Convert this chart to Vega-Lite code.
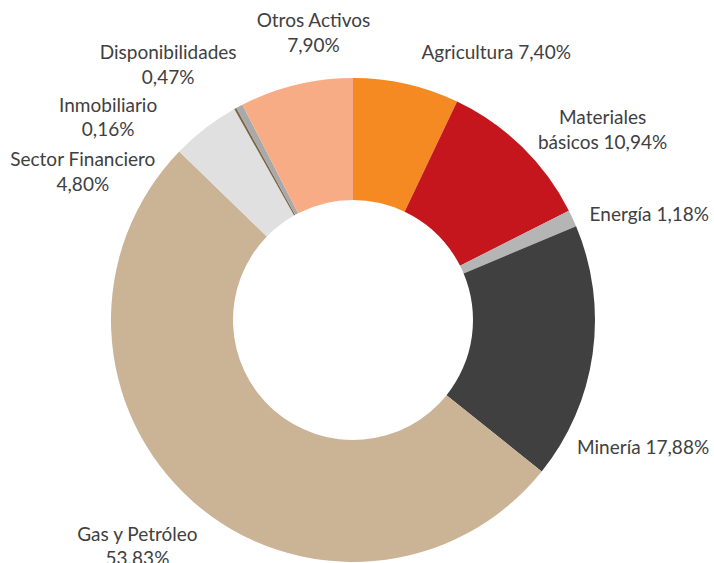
{
  "$schema": "https://vega.github.io/schema/vega-lite/v6.json",
  "width": 484,
  "height": 484,
  "autosize": {"type": "none"},
  "padding": {"left": 111, "right": 119, "top": 78, "bottom": 1},
  "background": "#ffffff",
  "config": {
    "view": {"stroke": null},
    "text": {
      "font": "Lato",
      "fontSize": 19,
      "color": "#404040",
      "align": "center",
      "baseline": "middle",
      "lineBreak": "\n",
      "lineHeight": 24.5
    }
  },
  "data": {
    "values": [
      {"name": "Agricultura", "label": "Agricultura 7,40%", "value": 7.40, "ord": 1},
      {"name": "Materiales básicos", "label": "Materiales\nbásicos 10,94%", "value": 10.94, "ord": 2},
      {"name": "Energía", "label": "Energía 1,18%", "value": 1.18, "ord": 3},
      {"name": "Minería", "label": "Minería 17,88%", "value": 17.88, "ord": 4},
      {"name": "Gas y Petróleo", "label": "Gas y Petróleo\n53.83%", "value": 53.83, "ord": 5},
      {"name": "Sector Financiero", "label": "Sector Financiero\n4,80%", "value": 4.80, "ord": 6},
      {"name": "Inmobiliario", "label": "Inmobiliario\n0,16%", "value": 0.16, "ord": 7},
      {"name": "Disponibilidades", "label": "Disponibilidades\n0,47%", "value": 0.47, "ord": 8},
      {"name": "Otros Activos", "label": "Otros Activos\n7,90%", "value": 7.90, "ord": 9}
    ]
  },
  "encoding": {
    "theta": {"field": "value", "type": "quantitative", "stack": true},
    "order": {"field": "ord", "type": "quantitative"}
  },
  "layer": [
    {
      "mark": {"type": "arc", "innerRadius": 120},
      "encoding": {
        "color": {
          "field": "name",
          "type": "nominal",
          "legend": null,
          "scale": {
            "domain": ["Agricultura", "Materiales básicos", "Energía", "Minería", "Gas y Petróleo", "Sector Financiero", "Inmobiliario", "Disponibilidades", "Otros Activos"],
            "range": ["#F58A23", "#C4161C", "#B5B5B5", "#404040", "#CBB396", "#E0E0E0", "#7B6649", "#A9A9A9", "#F8AC86"]
          }
        }
      }
    },
    {
      "mark": {"type": "text", "radius": 300, "dx": 77, "dy": 26},
      "encoding": {"text": {"condition": {"test": "datum.name === 'Agricultura'", "field": "label"}, "value": ""}}
    },
    {
      "mark": {"type": "text", "radius": 300, "dx": 40, "dy": 13},
      "encoding": {"text": {"condition": {"test": "datum.name === 'Materiales básicos'", "field": "label"}, "value": ""}}
    },
    {
      "mark": {"type": "text", "radius": 300, "dx": 24, "dy": 21},
      "encoding": {"text": {"condition": {"test": "datum.name === 'Energía'", "field": "label"}, "value": ""}}
    },
    {
      "mark": {"type": "text", "radius": 300, "dx": -7, "dy": 86},
      "encoding": {"text": {"condition": {"test": "datum.name === 'Minería'", "field": "label"}, "value": ""}}
    },
    {
      "mark": {"type": "text", "radius": 300, "dx": -17, "dy": -10},
      "encoding": {"text": {"condition": {"test": "datum.name === 'Gas y Petróleo'", "field": "label"}, "value": ""}}
    },
    {
      "mark": {"type": "text", "radius": 300, "dx": -87, "dy": 78},
      "encoding": {"text": {"condition": {"test": "datum.name === 'Sector Financiero'", "field": "label"}, "value": ""}}
    },
    {
      "mark": {"type": "text", "radius": 300, "dx": -99, "dy": 48},
      "encoding": {"text": {"condition": {"test": "datum.name === 'Inmobiliario'", "field": "label"}, "value": ""}}
    },
    {
      "mark": {"type": "text", "radius": 300, "dx": -44, "dy": -2},
      "encoding": {"text": {"condition": {"test": "datum.name === 'Disponibilidades'", "field": "label"}, "value": ""}}
    },
    {
      "mark": {"type": "text", "radius": 300, "dx": 31, "dy": -7},
      "encoding": {"text": {"condition": {"test": "datum.name === 'Otros Activos'", "field": "label"}, "value": ""}}
    }
  ]
}
